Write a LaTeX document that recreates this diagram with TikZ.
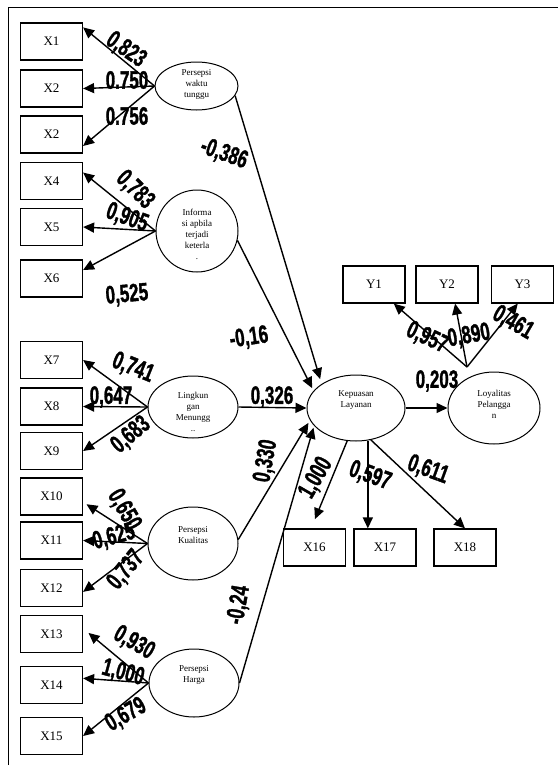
\documentclass[tikz,border=0pt]{standalone}
\usepackage{fontspec}
\setmainfont{Liberation Serif}
\newfontfamily\coeffont[BoldFeatures={FakeBold=1.6}]{Liberation Sans}
\usetikzlibrary{arrows.meta,shapes.geometric,calc}

\begin{document}
\begin{tikzpicture}[
        x=1pt, y=-1pt,
        >={Triangle[length=11pt,width=10pt]},
        % indicator boxes and latent ellipses
        ind_box/.style={draw=black, line width=1.2pt, fill=white, minimum width=62pt, minimum height=37pt, inner sep=0pt, font=\fontsize{13}{13}\selectfont},
        lat_node/.style={draw=black, line width=1pt, ellipse, inner sep=0pt},
        lat_text/.style={font=\fontsize{9}{11}\selectfont, align=center, inner sep=0pt},
        arrow/.style={->, line width=1.4pt},
        coef/.style={font=\coeffont\bfseries\fontsize{25}{25}\selectfont, xscale=0.68, inner sep=0pt}
    ]
    \useasboundingbox (0,0) rectangle (558,774);

    % frame
    \draw[line width=1pt] (8,765) -- (8,7) -- (558,7);

    % --- indicators (left column) ---
    \node[ind_box] (x1) at (51.5, 41.5) {X1};
    \node[ind_box] (x2) at (51.5, 88.5) {X2};
    \node[ind_box] (x3) at (51.5, 134.5) {X2};
    \node[ind_box] (x4) at (51.5, 181) {X4};
    \node[ind_box] (x5) at (51.5, 227) {X5};
    \node[ind_box] (x6) at (51.5, 278.5) {X6};
    \node[ind_box] (x7) at (51.5, 360) {X7};
    \node[ind_box] (x8) at (51.5, 406.5) {X8};
    \node[ind_box] (x9) at (51.5, 451) {X9};
    \node[ind_box] (x10) at (51.5, 496.5) {X10};
    \node[ind_box] (x11) at (51.5, 540.5) {X11};
    \node[ind_box] (x12) at (51.5, 588) {X12};
    \node[ind_box] (x13) at (51.5, 634) {X13};
    \node[ind_box] (x14) at (51.5, 685) {X14};
    \node[ind_box] (x15) at (51.5, 736) {X15};

    % --- indicators (right side) ---
    \node[ind_box] (y1) at (374, 284.5) {Y1};
    \node[ind_box] (y2) at (447, 284.5) {Y2};
    \node[ind_box] (y3) at (522.5, 284.5) {Y3};
    \node[ind_box] (x16) at (314.5, 547.5) {X16};
    \node[ind_box] (x17) at (385, 547.5) {X17};
    \node[ind_box] (x18) at (465, 547.5) {X18};

    % --- latent variables ---
    \node[lat_node, minimum width=83pt, minimum height=48pt] (persepsi_waktu) at (196.5, 86) {};
    \node[lat_node, minimum width=82pt, minimum height=82pt] (informasi) at (197, 231) {};
    \node[lat_node, minimum width=90pt, minimum height=62pt] (lingkungan) at (193, 407) {};
    \node[lat_node, minimum width=90pt, minimum height=73pt] (kualitas) at (193, 543.5) {};
    \node[lat_node, minimum width=90pt, minimum height=68pt] (harga) at (194, 683) {};
    \node[lat_node, minimum width=98pt, minimum height=66pt] (kepuasan) at (356, 408) {};
    \node[lat_node, minimum width=92pt, minimum height=72pt] (loyalitas) at (494, 408) {};

    \node[lat_text] (persepsi_waktu_txt) at ([yshift=2pt]persepsi_waktu.center) {Persepsi\\waktu\\tunggu};
    \node[lat_text] (informasi_txt) at ([yshift=-3pt]informasi.center) {Informa\\si apbila\\terjadi\\keterla\\.};
    \node[lat_text] (lingkungan_txt) at ([yshift=-5pt]lingkungan.center) {Lingkun\\gan\\Menungg\\..};
    \node[lat_text] (kualitas_txt) at ([yshift=8pt]kualitas.center) {Persepsi\\Kualitas};
    \node[lat_text] (harga_txt) at ([yshift=8pt]harga.center) {Persepsi\\Harga};
    \node[lat_text] (kepuasan_txt) at ([yshift=8pt]kepuasan.center) {Kepuasan\\Layanan};
    \node[lat_text] (loyalitas_txt) at ([yshift=4pt]loyalitas.center) {Loyalitas\\Pelangga\\n};

    % --- loadings ---
    \draw[arrow] (persepsi_waktu.west) -- (x1.24);
    \draw[arrow] (persepsi_waktu.west) -- (x2.east);
    \draw[arrow] (persepsi_waktu.west) -- (x3.-20);

    \draw[arrow] (informasi.west) -- (x4.15);
    \draw[arrow] (informasi.west) -- (x5.east);
    \draw[arrow] (informasi.west) -- (x6.15);

    \draw[arrow] (lingkungan.west) -- (x7.east);
    \draw[arrow] (lingkungan.west) -- (x8.east);
    \draw[arrow] (lingkungan.west) -- (x9.east);

    \draw[arrow, shorten >=4pt] (kualitas.west) -- (x10.-10);
    \draw[arrow] (kualitas.west) -- (x11.east);
    \draw[arrow] (kualitas.west) -- (x12.-7);

    \draw[arrow, shorten >=7pt] (harga.west) -- (x13.10);
    \draw[arrow] (harga.west) -- (x14.12);
    \draw[arrow] (harga.west) -- (x15.east);

    % --- structural paths ---
    \draw[arrow, shorten >=5pt] (persepsi_waktu.-14) -- (kepuasan.145);
    \draw[arrow, shorten >=3pt] (informasi.-13) -- (kepuasan.158);
    \draw[arrow] (lingkungan.east) -- (kepuasan.west);
    \draw[arrow, shorten >=3pt] (kualitas.5) -- (kepuasan.195);
    \draw[arrow, shorten >=2pt] (harga.east) -- (kepuasan.203);
    \draw[arrow] (kepuasan.east) -- (loyalitas.west);

    % --- endogenous indicators ---
    \coordinate (loyal_top) at ($(loyalitas)+(-27,-41)$);
    \draw[arrow] (loyal_top) -- (y1.-44);
    \draw[arrow] (loyal_top) -- (y2.-67);
    \draw[arrow] (loyal_top) -- (y3.-104);

    \draw[arrow, shorten >=10pt] (kepuasan.-105) -- (x16.100);
    \draw[arrow] (kepuasan.-70) -- (kepuasan.-70 |- x17.north);
    \draw[arrow] (kepuasan.-65) -- (x18.north);

    % --- coefficients ---
    \node[rotate=-35, coef] (c_x1) at (126, 50) {0,823};
    \node[coef] (c_x2) at (127, 80) {0.750};
    \node[coef] (c_x3) at (127, 116) {0.756};
    \node[rotate=-20, coef] (c_pw) at (224, 154) {-0,386};
    \node[rotate=-45, coef] (c_x4) at (135, 190) {0,783};
    \node[rotate=-20, coef] (c_x5) at (127, 218) {0,905};
    \node[rotate=5, coef] (c_x6) at (127, 295) {0,525};
    \node[rotate=8, coef] (c_inf) at (249, 338) {-0,16};
    \node[rotate=-22, coef] (c_x7) at (133, 368) {0,741};
    \node[coef] (c_x8) at (111, 397) {0,647};
    \node[rotate=40, coef] (c_x9) at (131, 435) {0,683};
    \node[coef] (c_lg) at (272, 397) {0,326};
    \node[rotate=80, coef] (c_kl) at (266, 461) {0,330};
    \node[rotate=-60, coef] (c_x10) at (124, 510) {0,650};
    \node[rotate=15, coef] (c_x11) at (114, 537) {0,625};
    \node[rotate=50, coef] (c_x12) at (126, 570) {0,737};
    \node[rotate=80, coef] (c_hg) at (239, 605) {-0,24};
    \node[rotate=-30, coef] (c_x13) at (134, 643) {0,930};
    \node[rotate=-15, coef] (c_x14) at (123, 673) {1,000};
    \node[rotate=30, coef] (c_x15) at (126, 715) {0,679};
    \node[coef] (c_kp) at (437, 381) {0,203};
    \node[rotate=-25, coef] (c_y1) at (427, 338) {0,957};
    \node[rotate=10, coef] (c_y2) at (469, 336) {0,890};
    \node[rotate=-30, coef] (c_y3) at (513, 323) {0,461};
    \node[rotate=60, coef] (c_x16) at (316, 478) {1,000};
    \node[rotate=-20, coef] (c_x17) at (370, 476) {0,597};
    \node[rotate=-20, coef] (c_x18) at (428, 470) {0,611};

\end{tikzpicture}
\end{document}
